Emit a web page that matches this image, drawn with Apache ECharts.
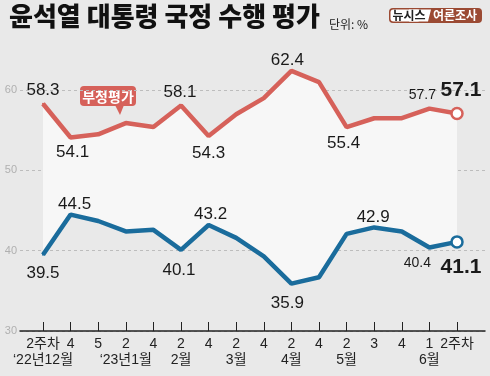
<!DOCTYPE html>
<html><head><meta charset="utf-8">
<script src="https://cdn.jsdelivr.net/npm/echarts@6/dist/echarts.min.js"></script>
<style>html,body{margin:0;padding:0;background:#e9e9e9}#c{width:490px;height:376px}</style>
</head><body><div id="c"></div>
<script>
const weekLabels = ['2주차','4','5','2','4','2','4','2','4','2','4','2','3','4','1','2주차'];
const monthLabels = ['\u201822년12월','','','\u201823년1월','','2월','','3월','','4월','','5월','','','6월',''];
const negative = [58.3,54.1,54.5,55.9,55.4,58.1,54.3,57.0,59.0,62.4,61.0,55.4,56.5,56.5,57.7,57.1];
const positive = [39.5,44.5,43.7,42.4,42.6,40.1,43.2,41.6,39.3,35.9,36.7,42.1,42.9,42.4,40.4,41.1];
const yTicks = [30,40,50,60];

const RED = '#d6615a', BLUE = '#1a6c9c', BG = '#e9e9e9', BAND = '#f7f7f7';
const NUM_FONT = "'Liberation Sans Narrow','Liberation Sans',sans-serif";
const KR_FONT = "'Noto Sans CJK KR',sans-serif";

// label placement (annotation styling, separate from the data): [position, distance, dx, fontSize, bold]
const redLab = {0:['top',4,0,17],1:['bottom',5,2,17],5:['top',4,-1,17],6:['bottom',8,0,17],9:['top',1,-4,17],11:['bottom',7,-3,17],14:['top',5,-7,14],15:['top',6,4,21,1]};
const blueLab = {0:['bottom',9,0,17],1:['top',1,4,17],5:['bottom',11,-2,17],6:['top',1,2,17],9:['bottom',10,-4,17],12:['top',1,-1,17],14:['bottom',8,-12,14],15:['bottom',8,4,21,1]};

function buildData(vals, labs, color){
  return vals.map((v,i)=>{
    const d = {value:v};
    const L = labs[i];
    if (L) {
      d.label = {show:true, position:L[0], distance:L[1], offset:[L[2],0], fontSize:L[3],
        fontFamily:NUM_FONT, color:'#1a1a1a', fontWeight: L[4]?'bold':'normal'};
    }
    if (i === vals.length-1) {
      d.symbol = 'circle'; d.symbolSize = 11;
      d.itemStyle = {color:'#ffffff', borderColor:color, borderWidth:2.5};
    }
    return d;
  });
}

const chart = echarts.init(document.getElementById('c'), null, {renderer:'canvas'});
chart.setOption({
  backgroundColor: BG,
  animation:false,
  grid:[
    {left:43, right:33, top:50, bottom:45},
    {left:20, right:5, top:90, bottom:45}
  ],
  xAxis:[
    {type:'category', gridIndex:0, data:weekLabels, boundaryGap:false,
     axisLine:{show:false},
     axisTick:{show:true, inside:true, length:9, lineStyle:{color:'#222', width:1}},
     axisLabel:{interval:0, margin:5, color:'#222', fontSize:14, fontFamily:NUM_FONT+","+KR_FONT, lineHeight:16,
       formatter:(v,i)=> monthLabels[i] ? v+'\n'+monthLabels[i] : v},
     splitLine:{show:false}},
    {type:'value', gridIndex:1, min:0, max:1, show:true,
     axisLine:{show:true, lineStyle:{color:'#222', width:1.5}},
     axisTick:{show:false}, axisLabel:{show:false}, splitLine:{show:false}}
  ],
  yAxis:[
    {type:'value', gridIndex:0, min:30, max:65, show:false, splitLine:{show:false}},
    {type:'value', gridIndex:1, min:yTicks[0], max:yTicks[yTicks.length-1], interval:10,
     axisLine:{show:false}, axisTick:{show:false},
     axisLabel:{color:'#b0b0b0', fontSize:11, margin:3, fontFamily:NUM_FONT},
     splitLine:{show:true, lineStyle:{color:'#bdbdbd', type:[3,3], width:1}}}
  ],
  series:[
    {type:'line', xAxisIndex:0, yAxisIndex:0, stack:'band', data:positive, symbol:'none',
     lineStyle:{opacity:0}, silent:true, z:1},
    {type:'line', xAxisIndex:0, yAxisIndex:0, stack:'band', data:negative.map((v,i)=>v-positive[i]), symbol:'none',
     lineStyle:{opacity:0}, areaStyle:{color:BAND, opacity:1}, silent:true, z:1},
    {type:'line', xAxisIndex:0, yAxisIndex:0, data:buildData(negative, redLab, RED), symbol:'circle', symbolSize:2, showSymbol:true,
     lineStyle:{color:RED, width:4.5}, itemStyle:{color:RED}, z:3},
    {type:'line', xAxisIndex:0, yAxisIndex:0, data:buildData(positive, blueLab, BLUE), symbol:'circle', symbolSize:2, showSymbol:true,
     lineStyle:{color:BLUE, width:4.5}, itemStyle:{color:BLUE}, z:3}
  ],
  graphic:[
    {type:'text', left:9, top:3, style:{text:'윤석열 대통령 국정 수행 평가', font:"900 26px "+KR_FONT, fill:'#111'}},
    {type:'text', left:329, top:18, style:{text:'단위: %', font:"12px "+KR_FONT, fill:'#222'}},
    {type:'group', left:389, top:8, children:[
      {type:'rect', shape:{x:0,y:0,width:93,height:15,r:4}, style:{fill:'#9b4a33'}},
      {type:'rect', shape:{x:1.5,y:1.5,width:30,height:12,r:3}, style:{fill:'#ffffff'}},
      {type:'polygon', shape:{points:[[20,1.5],[42,1.5],[39,13.5],[20,13.5]]}, style:{fill:'#ffffff'}},
      {type:'text', style:{text:'뉴시스', x:20, y:7.8, align:'center', verticalAlign:'middle', font:"bold 12px "+KR_FONT, fill:'#222'}},
      {type:'text', style:{text:'여론조사', x:66, y:7.8, align:'center', verticalAlign:'middle', font:"bold 12px "+KR_FONT, fill:'#fff'}}
    ]},
    {type:'group', left:80, top:86, z:10, children:[
      {type:'rect', shape:{x:0,y:0,width:56,height:20,r:4}, style:{fill:RED}},
      {type:'polygon', shape:{points:[[35,19],[44,19],[40,29]]}, style:{fill:RED}},
      {type:'text', style:{text:'부정평가', x:28, y:10.5, align:'center', verticalAlign:'middle', font:"bold 14px "+KR_FONT, fill:'#fff'}}
    ]},
    {type:'group', left:283, top:211, z:10, children:[
      {type:'rect', shape:{x:0,y:0,width:55,height:21,r:4}, style:{fill:BLUE}},
      {type:'polygon', shape:{points:[[36,20],[45,20],[40,31]]}, style:{fill:BLUE}},
      {type:'text', style:{text:'긍정평가', x:27.5, y:11, align:'center', verticalAlign:'middle', font:"bold 14px "+KR_FONT, fill:'#fff'}}
    ]}
  ]
});
</script></body></html>
